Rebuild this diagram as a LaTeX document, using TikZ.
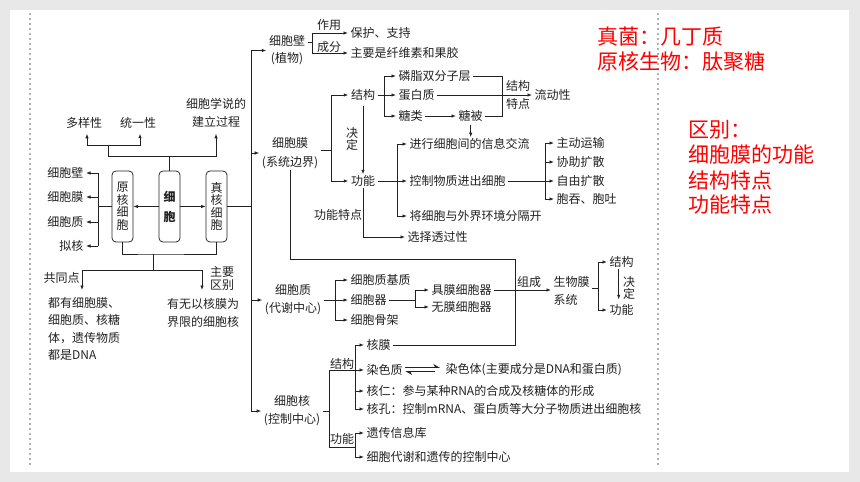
\documentclass[tikz,border=0pt]{standalone}
\usepackage{fontspec}
\newfontfamily\cjk{Noto Sans CJK SC}
\usetikzlibrary{arrows.meta}
\definecolor{txt}{HTML}{222222}
\definecolor{bgc}{HTML}{E8E8E8}
\definecolor{redc}{HTML}{FF0000}
\newcommand\myfs[1]{\cjk\fontsize{12}{#1}\selectfont}
\tikzset{
 lbl/.style={font=\myfs{14}, text=txt, inner xsep=2.5pt, inner ysep=1pt},
 lw/.style={lbl, anchor=west},
 le/.style={lbl, anchor=east},
 ln/.style={draw=txt, line width=0.75pt},
 arr/.style={ln, -{Latex[length=4.5pt,width=3.4pt]}},
 cellbox/.style={draw=txt, line width=0.75pt, rounded corners=4pt, minimum width=21pt, minimum height=71pt, inner sep=0pt, align=center, font=\myfs{12.5}, text=txt},
 redt/.style={font=\cjk\fontsize{21}{24}\selectfont, text=redc, anchor=west, inner sep=0pt},
 dots/.style={draw=gray!60, line width=1.4pt, dash pattern=on 2pt off 3pt},
}
\begin{document}
\begin{tikzpicture}[x=1pt,y=-1pt]
\useasboundingbox (0,0) rectangle (860,482);
\fill[bgc] (0,0) rectangle (860,482);
\fill[white] (10,10) rectangle (849,472);
\draw[dots] (30,13) -- (30,468);
\draw[dots] (658,13) -- (658,468);

% ---------- left part ----------
\node[lbl] (duo) at (84,123) {多样性};
\node[lbl] (tong) at (138,123) {统一性};
\node[lbl, align=center, font=\myfs{18}] (jl) at (216,113) {细胞学说的\\建立过程};
\node[cellbox] (yh) at (122.5,206.5) {原\\核\\细\\胞};
\node[cellbox, font=\cjk\bfseries\fontsize{12}{20}\selectfont] (xb) at (169.5,206.5) {细\\胞};
\node[cellbox] (zh) at (216.5,206.5) {真\\核\\细\\胞};

\coordinate (bt) at (169.5,156);
\coordinate (btl) at (108,156);
\coordinate (bl) at (108,145);
\draw[ln] (xb.north) -- (bt);
\draw[ln] (bt) -- (btl) -- (bl);
\draw[arr, shorten >=5pt] (bt) -| (jl.south);
\draw[arr, shorten >=4pt] (bl) -| ([xshift=3pt]duo.south);
\draw[arr, shorten >=4pt] (bl) -| ([xshift=2pt]tong.south);

\draw[arr] (xb.west) -- (yh.east);
\draw[arr] (xb.east) -- (zh.west);

\coordinate (lb) at (98,206.5);
\node[le] (l1) at (86,173) {细胞壁};
\node[le] (l2) at (86,197) {细胞膜};
\node[le] (l3) at (86,222) {细胞质};
\node[le] (l4) at (86,246) {拟核};
\draw[ln] (yh.west) -- (lb);
\draw[ln] (lb |- l1.east) -- (lb |- l4.east);
\foreach \nn in {l1,l2,l3,l4} \draw[arr] (lb |- \nn.east) -- (\nn.east);

\coordinate (bj) at (153,254);
\coordinate (bk) at (153,270);
\coordinate (gt) at (82,290);
\coordinate (zb) at (202,290);
\draw[ln] (yh.south) |- (bj) -| (zh.south);
\draw[ln] (bj) -- (bk);
\draw[arr] (bk) -| (gt);
\draw[arr] (bk) -| (zb);
\node[lbl] (gtd) at (61.5,278) {共同点};
\node[lbl, align=center, font=\myfs{13}] (zyqb) at (222,278.5) {主要\\区别};
\node[lbl, anchor=west, align=left, font=\myfs{17.5}] (gtn) at (45.5,329) {都有细胞膜、\\细胞质、核糖\\体，遗传物质\\都是DNA};
\node[lbl, align=center, font=\myfs{18}] (qbn) at (203,313) {有无以核膜为\\界限的细胞核};

% ---------- trunk ----------
\coordinate (tr) at (251,206.5);
\node[lbl, align=center, font=\myfs{17}] (xbb) at (287,50.5) {细胞壁\\(植物)};
\node[lbl, align=center, font=\myfs{19}] (xbm) at (290,153) {细胞膜\\(系统边界)};
\node[lbl, align=center, font=\myfs{18}] (xbz) at (293,300) {细胞质\\(代谢中心)};
\node[lbl, align=center, font=\myfs{18}] (xbh) at (292,411) {细胞核\\(控制中心)};
\draw[ln] (zh.east) -- (tr);
\draw[ln] (tr |- xbb.west) -- (tr |- xbh.west);
\foreach \nn in {xbb,xbm,xbz,xbh} \draw[arr] (tr |- \nn.west) -- (\nn.west);

% ---------- cell wall ----------
\coordinate (wb) at (312,42);
\node[lw] (bh) at (348,33) {保护、支持};
\node[lw] (zy) at (348,53) {主要是纤维素和果胶};
\node[lbl] (zyl) at (329,25) {作用};
\node[lbl] (cfl) at (329,46.5) {成分};
\draw[ln] ([yshift=8.5pt]xbb.east) -- (wb);
\draw[ln] (wb |- bh.west) -- (wb |- zy.west);
\draw[arr] (wb |- bh.west) -- (bh.west);
\draw[arr] (wb |- zy.west) -- (zy.west);

% ---------- cell membrane ----------
\coordinate (m1) at (331,150);
\node[lbl] (jg1) at (363,95) {结构};
\node[lbl] (gn1) at (363,181) {功能};
\draw[ln] ([yshift=3pt]xbm.east) -- (m1);
\draw[ln] (m1 |- jg1.west) -- (m1 |- gn1.west);
\draw[arr] (m1 |- jg1.west) -- (jg1.west);
\draw[arr] (m1 |- gn1.west) -- (gn1.west);
\draw[arr, shorten <=4pt] (jg1.south) -- (gn1.north);
\node[lbl, align=center, font=\myfs{12}] (jd1) at (352,139) {决\\定};

\coordinate (s1) at (384,95);
\node[lw] (lz) at (396,76) {磷脂双分子层};
\node[lw] (dbz) at (396,95) {蛋白质};
\node[lw] (tl) at (396,116) {糖类};
\node[lw] (tb) at (456,116) {糖被};
\draw[ln] (jg1.east) -- (s1);
\draw[ln] (s1 |- lz.west) -- (s1 |- tl.west);
\foreach \nn in {lz,dbz,tl} \draw[arr] (s1 |- \nn.west) -- (\nn.west);
\draw[arr] (tl.east) -- (tb.west);
\coordinate (s2) at (502,95);
\draw[ln] (lz.east) -| (s2 |- tb.east) -- (tb.east);
\node[lw] (ldx) at (532,95) {流动性};
\draw[arr] (dbz.east) -- (ldx.west);
\node[lbl, align=center, font=\myfs{18}] (jgtd) at (518,95) {结构\\特点};

\coordinate (f1) at (397,181);
\node[lw] (xx) at (407,144) {进行细胞间的信息交流};
\node[lw] (kz) at (407,181) {控制物质进出细胞};
\node[lw] (fg) at (407,216) {将细胞与外界环境分隔开};
\draw[arr, shorten <=2pt] (tb.south) -- (tb.south |- xx.north);
\draw[ln] (gn1.east) -- (f1);
\draw[ln] (f1 |- xx.west) -- (f1 |- fg.west);
\foreach \nn in {xx,kz,fg} \draw[arr] (f1 |- \nn.west) -- (\nn.west);

\coordinate (k1) at (545,181);
\node[lw] (zd) at (554,143) {主动运输};
\node[lw] (xz) at (554,162) {协助扩散};
\node[lw] (zyk) at (554,181) {自由扩散};
\node[lw] (tt) at (554,199) {胞吞、胞吐};
\draw[ln] (kz.east) -- (k1);
\draw[ln] (k1 |- zd.west) -- (k1 |- tt.west);
\foreach \nn in {zd,xz,zyk,tt} \draw[arr] (k1 |- \nn.west) -- (\nn.west);

\node[lbl] (gntd) at (338,215) {功能特点};
\node[lw] (xztg) at (405,237) {选择透过性};
\draw[arr] (gn1.south) |- (xztg.west);

% ---------- cytoplasm ----------
\coordinate (c1) at (335,300);
\node[lw] (jz) at (348,280) {细胞质基质};
\node[lw] (xbq) at (348,300) {细胞器};
\node[lw] (gj) at (348,320) {细胞骨架};
\draw[ln] (xbz.east) -- (c1);
\draw[ln] (c1 |- jz.west) -- (c1 |- gj.west);
\foreach \nn in {jz,xbq,gj} \draw[arr] (c1 |- \nn.west) -- (\nn.west);

\coordinate (q1) at (415,300);
\node[lw] (jm) at (429,290) {具膜细胞器};
\node[lw] (wm) at (429,307) {无膜细胞器};
\draw[ln] (xbq.east) -- (q1);
\draw[ln] (q1 |- jm.west) -- (q1 |- wm.west);
\foreach \nn in {jm,wm} \draw[arr] (q1 |- \nn.west) -- (\nn.west);

\node[lbl, anchor=west, align=left, font=\myfs{18}] (swm) at (551,291) {生物膜\\系统};
\draw[arr] (jm.east) -- (jm.east -| swm.west);
\node[lbl] (zc) at (529,282) {组成};
\coordinate (w1) at (598,288);
\node[lw] (jg2) at (607,262) {结构};
\node[lw] (gn2) at (607,310) {功能};
\draw[ln] ([yshift=3pt]swm.east) -- (w1);
\draw[ln] (w1 |- jg2.west) -- (w1 |- gn2.west);
\draw[arr] (w1 |- jg2.west) -- (jg2.west);
\draw[arr] (w1 |- gn2.west) -- (gn2.west);
\draw[arr, shorten >=4pt] ([xshift=-3pt]jg2.south) -- ([xshift=-3pt]gn2.north);
\node[lbl, align=center, font=\myfs{11.5}] (jd2) at (629,288) {决\\定};

% ---------- nucleus ----------
\coordinate (h1) at (329,411);
\coordinate (h2) at (329,370);
\coordinate (h3) at (329,447);
\coordinate (h4) at (355,370);
\coordinate (h5) at (355,447);
\draw[ln] (xbh.east) -- (h1);
\draw[ln] (h2) -- (h3);
\draw[ln] (h2) -- (h4);
\draw[ln] (h3) -- (h5);
\node[lbl] (jg3) at (342,364) {结构};
\node[lbl] (gn3) at (342,439) {功能};

\node[lw] (hm) at (364,345) {核膜};
\node[lw] (rs) at (364,370) {染色质};
\node[lw] (hr) at (364,391) {核仁：参与某种RNA的合成及核糖体的形成};
\node[lw] (hk) at (364,409) {核孔：控制mRNA、蛋白质等大分子物质进出细胞核};
\draw[ln] (h4 |- hm.west) -- (h4 |- hk.west);
\foreach \nn in {hm,rs,hr,hk} \draw[arr] (h4 |- \nn.west) -- (\nn.west);
\node[lw] (rst) at (443,370) {染色体(主要成分是DNA和蛋白质)};
\draw[ln, -{Stealth[left,length=6pt,width=7pt]}, shorten >=3pt] ([yshift=2.5pt]rs.east) -- ([yshift=2.5pt]rst.west);
\draw[ln, -{Stealth[left,length=6pt,width=7pt]}] ([yshift=-1.5pt,xshift=-8pt]rst.west) -- ([yshift=-1.5pt]rs.east);

\node[lw] (yc) at (364,433) {遗传信息库};
\node[lw] (xd) at (364,457) {细胞代谢和遗传的控制中心};
\draw[ln] (h5 |- yc.west) -- (h5 |- xd.west);
\foreach \nn in {yc,xd} \draw[arr] (h5 |- \nn.west) -- (\nn.west);

\draw[ln] (xbm.south) |- (515,259) |- (hm.east);

% ---------- red notes ----------
\node[redt] (r1) at (597,37) {真菌：几丁质};
\node[redt] (r2) at (597,62) {原核生物：肽聚糖};
\node[redt] (r3) at (688,130) {区别：};
\node[redt] (r4) at (688,155) {细胞膜的功能};
\node[redt] (r5) at (688,181) {结构特点};
\node[redt] (r6) at (688,205) {功能特点};
\end{tikzpicture}
\end{document}
